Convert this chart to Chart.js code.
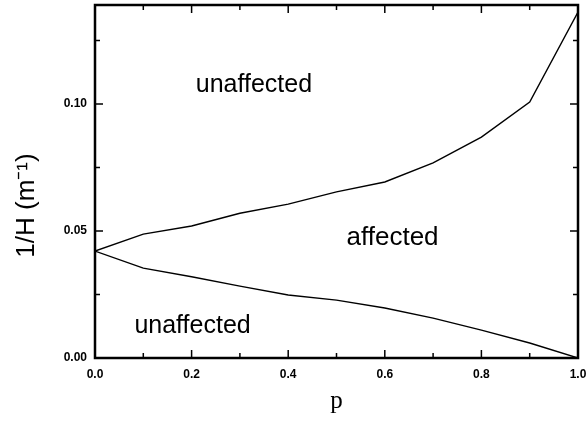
<!DOCTYPE html>
<html>
<head>
<meta charset="utf-8">
<script src="https://cdn.jsdelivr.net/npm/chart.js@4/dist/chart.umd.min.js"></script>
<style>
  html, body { margin: 0; padding: 0; background: #fff; }
  #wrap { width: 587px; height: 428px; }
</style>
</head>
<body>
<div id="wrap"><canvas id="myChart"></canvas></div>
<script>
// Data
const pValues = [0, 0.1, 0.2, 0.3, 0.4, 0.5, 0.6, 0.7, 0.8, 0.9, 1.0];
const upperBoundary = [0.0421, 0.0488, 0.0520, 0.0570, 0.0606, 0.0654, 0.0693, 0.0768, 0.0870, 0.1008, 0.1362];
const lowerBoundary = [0.0421, 0.0354, 0.0320, 0.0283, 0.0248, 0.0228, 0.0197, 0.0157, 0.0110, 0.0059, 0.0000];

// Region labels and where they sit (in data units)
const regionLabels = ['unaffected', 'affected', 'unaffected'];
const regionP = [0.329, 0.616, 0.202];
const regionH = [0.1047, 0.0445, 0.0098];

const xTickValues = [0, 0.1, 0.2, 0.3, 0.4, 0.5, 0.6, 0.7, 0.8, 0.9, 1.0];
const yTickValues = [0, 0.025, 0.05, 0.075, 0.1, 0.125];

const toPoints = (ys) => pValues.map((p, i) => ({ x: p, y: ys[i] }));

// frame + inward ticks on all four sides, like the original plot
const frameTicks = {
  id: 'frameTicks',
  afterDatasetsDraw(chart) {
    const { ctx, chartArea: a, scales: { x, y } } = chart;
    ctx.save();
    ctx.strokeStyle = '#000';
    ctx.lineWidth = 1.5;
    ctx.beginPath();
    xTickValues.forEach((v, i) => {
      const px = x.getPixelForValue(v);
      const len = i % 2 === 0 ? 8 : 5;
      ctx.moveTo(px, a.bottom); ctx.lineTo(px, a.bottom - len);
      ctx.moveTo(px, a.top); ctx.lineTo(px, a.top + len);
    });
    yTickValues.forEach((v, i) => {
      const py = y.getPixelForValue(v);
      const len = i % 2 === 0 ? 8 : 5;
      ctx.moveTo(a.left, py); ctx.lineTo(a.left + len, py);
      ctx.moveTo(a.right, py); ctx.lineTo(a.right - len, py);
    });
    ctx.stroke();
    ctx.lineWidth = 2.5;
    ctx.strokeRect(a.left, a.top, a.right - a.left, a.bottom - a.top);

    // region labels
    ctx.fillStyle = '#000';
    ctx.textAlign = 'center';
    ctx.textBaseline = 'alphabetic';
    regionLabels.forEach((t, i) => {
      ctx.font = (t === 'affected' ? 26 : 25) + 'px "Liberation Sans", Arial, sans-serif';
      ctx.fillText(t, x.getPixelForValue(regionP[i]), y.getPixelForValue(regionH[i]));
    });

    // y axis title, sits a bit below the middle in the original
    ctx.translate(27, (a.top + a.bottom) / 2 + 24);
    ctx.rotate(-Math.PI / 2);
    ctx.textAlign = 'center';
    ctx.textBaseline = 'middle';
    ctx.font = '26px "Liberation Sans", Arial, sans-serif';
    ctx.fillText('1/H (m\u207B\u00B9)', 0, 0);
    ctx.restore();
  }
};

const chartConfig = {
  type: 'line',
  data: {
    datasets: [
      { label: 'upper', data: toPoints(upperBoundary) },
      { label: 'lower', data: toPoints(lowerBoundary) }
    ]
  },
  options: {
    responsive: true,
    maintainAspectRatio: false,
    animation: false,
    layout: { padding: { top: 5, right: 9, left: 0, bottom: 0 } },
    elements: {
      line: { borderColor: '#000', borderWidth: 1.4, tension: 0, fill: false },
      point: { radius: 0 }
    },
    scales: {
      x: {
        type: 'linear',
        min: 0,
        max: 1,
        grid: { display: false, drawTicks: false },
        border: { display: false },
        afterFit: (s) => { s.height = 70; s.paddingLeft = 0; s.paddingRight = 0; },
        ticks: {
          stepSize: 0.2,
          padding: 9,
          color: '#000',
          font: { family: '"Liberation Sans", Arial, sans-serif', size: 12, weight: 'bold' },
          callback: (v) => v.toFixed(1)
        },
        title: {
          display: true,
          text: 'p',
          color: '#000',
          font: { family: '"Liberation Serif", "Times New Roman", serif', size: 25 },
          padding: { top: 0, bottom: 12 }
        }
      },
      y: {
        min: 0,
        max: 0.139,
        grid: { display: false, drawTicks: false },
        border: { display: false },
        afterFit: (s) => { s.width = 95; s.paddingTop = 0; s.paddingBottom = 0; },
        ticks: {
          stepSize: 0.05,
          includeBounds: false,
          padding: 8,
          color: '#000',
          font: { family: '"Liberation Sans", Arial, sans-serif', size: 12, weight: 'bold' },
          callback: (v) => v.toFixed(2)
        }
      }
    },
    plugins: {
      legend: { display: false },
      tooltip: { enabled: false }
    }
  },
  plugins: [frameTicks]
};

const myChart = new Chart(document.getElementById('myChart'), chartConfig);
</script>
</body>
</html>
